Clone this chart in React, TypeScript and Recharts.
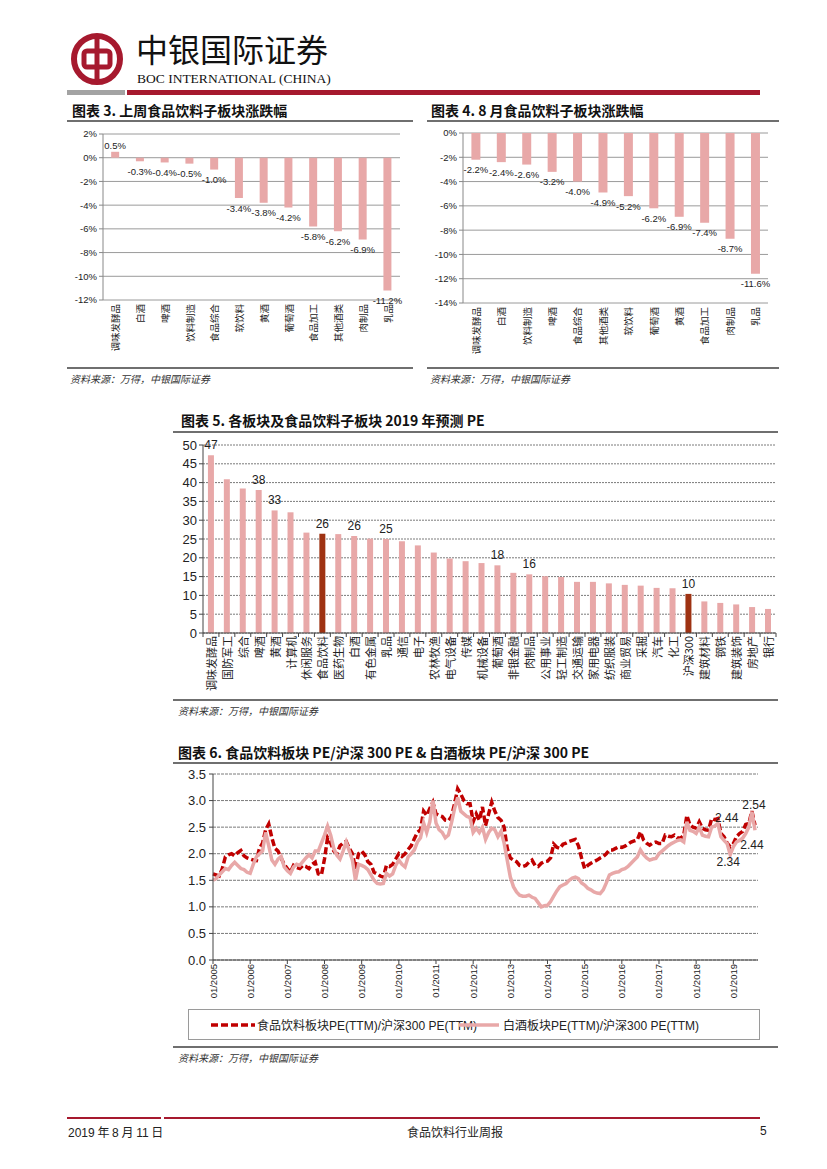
import React from "react";
import {
  BarChart,
  Bar,
  XAxis,
  YAxis,
  CartesianGrid,
  Cell,
  LabelList,
  LineChart,
  Line,
} from "recharts";

const CJK = '"Noto Sans CJK SC", "Noto Sans", sans-serif';
const ARIAL = '"Liberation Sans", Arial, sans-serif';
const PINK = "#E8A8A8";
const DARK = "#9E3212";
const RED = "#C00000";
const BOC_RED = "#A6192E";

// 图表3 上周
const weekSectors = ["调味发酵品", "白酒", "啤酒", "饮料制造", "食品综合", "软饮料", "黄酒", "葡萄酒", "食品加工", "其他酒类", "肉制品", "乳品"];
const weekChange = [0.5, -0.3, -0.4, -0.5, -1.0, -3.4, -3.8, -4.2, -5.8, -6.2, -6.9, -11.2];
const weekTicks = [2, 0, -2, -4, -6, -8, -10, -12];

// 图表4 8月
const augSectors = ["调味发酵品", "白酒", "饮料制造", "啤酒", "食品综合", "其他酒类", "软饮料", "葡萄酒", "黄酒", "食品加工", "肉制品", "乳品"];
const augChange = [-2.2, -2.4, -2.6, -3.2, -4.0, -4.9, -5.2, -6.2, -6.9, -7.4, -8.7, -11.6];
const augTicks = [0, -2, -4, -6, -8, -10, -12, -14];

// 图表5 2019 预测 PE
const peSectors = [
  "调味发酵品", "国防军工", "综合", "啤酒", "黄酒", "计算机", "休闲服务", "食品饮料", "医药生物", "白酒",
  "有色金属", "乳品", "通信", "电子", "农林牧渔", "电气设备", "传媒", "机械设备", "葡萄酒", "非银金融",
  "肉制品", "公用事业", "轻工制造", "交通运输", "家用电器", "纺织服装", "商业贸易", "采掘", "汽车", "化工",
  "沪深300", "建筑材料", "钢铁", "建筑装饰", "房地产", "银行",
];
const peValues = [
  47.3, 40.9, 38.4, 38.0, 32.6, 32.1, 26.7, 26.4, 26.3, 25.8,
  25.1, 25.0, 24.4, 23.3, 21.4, 19.8, 19.1, 18.6, 18.0, 16.0,
  15.6, 15.1, 14.9, 13.6, 13.6, 13.2, 12.8, 12.6, 12.0, 11.9,
  10.4, 8.4, 8.0, 7.6, 6.9, 6.4,
];
const peHighlight = ["食品饮料", "沪深300"];
const peLabeled = ["调味发酵品", "啤酒", "黄酒", "食品饮料", "白酒", "乳品", "葡萄酒", "肉制品", "沪深300"];
const peTicks = [0, 5, 10, 15, 20, 25, 30, 35, 40, 45, 50];

// 图表6 月度 PE 比值, 2005/01 - 2019/08
const foodRatio = [
  1.62, 1.6, 1.58, 1.72, 1.94, 1.98, 2.0, 1.96, 2.02, 2.06, 1.96, 1.92,
  1.9, 1.88, 1.87, 2.1, 2.2, 2.45, 2.56, 2.3, 2.1, 2.05, 1.92, 1.8,
  1.72, 1.65, 1.78, 1.74, 1.72, 1.78, 1.76, 1.72, 1.8, 1.84, 1.62, 1.6,
  1.9, 2.3, 2.2, 2.05, 2.0, 2.15, 2.2, 2.23, 2.1, 2.0, 1.72, 2.0,
  2.05, 1.98, 1.85, 1.8, 1.65, 1.62, 1.58, 1.56, 1.78, 1.76, 1.8, 1.9,
  2.0, 1.95, 2.0, 2.08, 2.15, 2.28, 2.4, 2.45, 2.8, 2.72, 2.85, 2.97,
  2.75, 2.72, 2.7, 2.63, 2.62, 2.7, 2.94, 3.22, 3.12, 3.0, 2.94, 2.94,
  2.6, 2.75, 2.63, 2.88, 2.53, 2.75, 2.97, 2.8, 2.68, 2.63, 2.5, 2.1,
  1.92, 1.88, 1.85, 1.78, 1.76, 1.78, 1.84, 1.88, 1.78, 1.76, 1.82, 1.85,
  1.86, 1.92, 2.18, 2.12, 2.1, 2.18, 2.2, 2.23, 2.25, 2.27, 2.15, 1.92,
  1.72, 1.78, 1.82, 1.85, 1.88, 1.92, 1.95, 2.0, 2.07, 2.07, 2.1, 2.13,
  2.12, 2.14, 2.18, 2.22, 2.24, 2.26, 2.41, 2.26, 2.2, 2.16, 2.2, 2.22,
  2.19, 2.19, 2.35, 2.33, 2.32, 2.35, 2.3, 2.29, 2.35, 2.72, 2.54, 2.5,
  2.48, 2.6, 2.48, 2.45, 2.44, 2.66, 2.64, 2.66, 2.38, 2.32, 2.2, 2.13,
  2.19, 2.32, 2.38, 2.42, 2.55, 2.57, 2.8, 2.54,
];
const baijiuRatio = [
  1.5, 1.53, 1.6, 1.66, 1.72, 1.7, 1.78, 1.84, 1.78, 1.72, 1.7, 1.65,
  1.63, 1.8, 1.94, 2.0, 2.05, 2.4, 2.15, 1.88, 1.8, 1.9, 1.95, 1.75,
  1.68, 1.63, 1.75, 1.8, 1.78, 1.85, 1.92, 1.98, 1.92, 2.05, 2.05, 2.2,
  2.35, 2.52, 2.35, 2.1, 1.97, 1.9, 2.05, 2.22, 2.05, 1.88, 1.5, 1.8,
  1.78, 1.75, 1.7, 1.6, 1.5, 1.44, 1.43, 1.44, 1.63, 1.58, 1.62, 1.78,
  1.88, 1.8, 1.75, 1.94, 2.0, 2.07, 2.22, 2.3, 2.58, 2.4, 2.6, 3.0,
  2.58, 2.45, 2.4, 2.3, 2.35, 2.58, 2.85, 3.06, 2.8, 2.75, 2.7, 2.68,
  2.4, 2.48, 2.4, 2.5, 2.27, 2.4, 2.48, 2.45, 2.32, 2.42, 2.2, 1.88,
  1.56, 1.38, 1.28, 1.22, 1.2, 1.2, 1.22, 1.18, 1.16, 1.08, 1.0, 1.02,
  1.03, 1.1, 1.2, 1.3, 1.38, 1.41, 1.44, 1.5, 1.54, 1.56, 1.53, 1.45,
  1.41, 1.35, 1.32, 1.28, 1.26, 1.25, 1.32, 1.45, 1.6, 1.63, 1.65, 1.66,
  1.7, 1.72, 1.76, 1.82, 1.88, 1.94, 2.07, 1.98, 1.92, 1.88, 1.9, 1.91,
  2.0, 2.05, 2.1, 2.15, 2.19, 2.22, 2.25, 2.26, 2.22, 2.6, 2.44, 2.42,
  2.38, 2.5, 2.35, 2.33, 2.32, 2.5, 2.52, 2.57, 2.32, 2.25, 2.19, 1.98,
  2.13, 2.22, 2.25, 2.29, 2.38, 2.5, 2.79, 2.44,
];
const ratioYears = [2005, 2006, 2007, 2008, 2009, 2010, 2011, 2012, 2013, 2014, 2015, 2016, 2017, 2018, 2019];
const ratioTicks = [0, 0.5, 1, 1.5, 2, 2.5, 3, 3.5];
// annotations: point index -> text
const foodNotes = [
  { index: 162, text: "2.44" },
  { index: 175, text: "2.54" },
];
const baijiuNotes = [
  { index: 167, text: "2.34" },
  { index: 175, text: "2.44" },
];

const months: string[] = [];
ratioYears.forEach((y) => {
  for (let m = 1; m <= 12; m++) months.push(`${String(m).padStart(2, "0")}/${y}`);
});
const ratioData = foodRatio.map((v, i) => ({ date: months[i], food: v, baijiu: baijiuRatio[i] }));

const weekData = weekSectors.map((name, i) => ({ name, value: weekChange[i] }));
const augData = augSectors.map((name, i) => ({ name, value: augChange[i] }));
const peData = peSectors.map((name, i) => ({ name, value: peValues[i] }));

const PE_W = 608;
const PE_PLOT_W = PE_W - 33 - 2;

const abs = (left: number, top: number, extra: React.CSSProperties = {}): React.CSSProperties => ({
  position: "absolute",
  left,
  top,
  ...extra,
});

const VTick = (props: any) => {
  const { x, y, payload, fontSize, offset } = props;
  return (
    <text
      transform={`translate(${x},${y + offset}) rotate(-90)`}
      textAnchor="end"
      dominantBaseline="central"
      fontSize={fontSize}
      fontFamily={props.family || CJK}
      fill="#222"
    >
      {payload.value}
    </text>
  );
};

const PeTick = (props: any) => {
  const { x, y, payload, index } = props;
  const step = PE_PLOT_W / peSectors.length;
  return (
    <g>
      <line x1={x - step / 2} x2={x - step / 2} y1={y} y2={y + 4} stroke="#444" />
      {index === peSectors.length - 1 && (
        <line x1={x + step / 2} x2={x + step / 2} y1={y} y2={y + 4} stroke="#444" />
      )}
      <text
        transform={`translate(${x},${y + 3}) rotate(-90)`}
        textAnchor="end"
        dominantBaseline="central"
        fontSize={11}
        fontFamily={CJK}
        fill="#222"
      >
        {payload.value}
      </text>
    </g>
  );
};

const PctLabel = (props: any) => {
  const vb = props.viewBox ?? props;
  const { value } = props;
  const cx = vb.x + vb.width / 2;
  const top = Math.min(vb.y, vb.y + vb.height);
  const bottom = Math.max(vb.y, vb.y + vb.height);
  const y = value >= 0 ? top - 6 : bottom + 10;
  return (
    <text x={cx} y={y} textAnchor="middle" dominantBaseline="central" fontSize={9.5} fontFamily={ARIAL} fill="#222">
      {`${Number(value).toFixed(1)}%`}
    </text>
  );
};

const PeLabel = (props: any) => {
  const vb = props.viewBox ?? props;
  const { value, index } = props;
  if (!peLabeled.includes(peSectors[index])) return null;
  const top = Math.min(vb.y, vb.y + vb.height);
  return (
    <text x={vb.x + vb.width / 2} y={top - 10} textAnchor="middle" dominantBaseline="central" fontSize={12} fontFamily={ARIAL} fill="#222">
      {Math.round(value)}
    </text>
  );
};

const noteOffsets: Record<string, { dx: number; dy: number }> = {
  "food-162": { dx: 12, dy: -2 },
  "food-175": { dx: -1, dy: -20 },
  "baijiu-167": { dx: -2, dy: 7 },
  "baijiu-175": { dx: -3, dy: 15 },
};

const makeNoteLabel = (series: string, notes: { index: number; text: string }[]) => (props: any) => {
  const vb = props.viewBox ?? props;
  const note = notes.find((n) => n.index === props.index);
  if (!note) return null;
  const off = noteOffsets[`${series}-${note.index}`];
  return (
    <text x={vb.x + off.dx} y={vb.y + off.dy} textAnchor="middle" dominantBaseline="central" fontSize={12} fontFamily={ARIAL} fill="#222">
      {note.text}
    </text>
  );
};

const ChartTitle = ({ left, top, children }: any) => (
  <div style={abs(left, top, { fontFamily: CJK, fontWeight: 700, fontSize: 14, lineHeight: "16px", color: "#111", whiteSpace: "nowrap" })}>
    {children}
  </div>
);

const Rule = ({ left, top, width }: any) => (
  <div style={abs(left, top, { width, height: 2, background: "#6f6f6f" })} />
);

const Source = ({ left, top }: any) => (
  <div style={abs(left, top, { fontFamily: CJK, fontStyle: "italic", fontSize: 10, lineHeight: "12px", color: "#333", whiteSpace: "nowrap" })}>
    资料来源：万得，中银国际证券
  </div>
);

const Logo = () => (
  <svg width={54} height={54} viewBox="0 0 54 54" style={abs(70, 32)}>
    <circle cx={27} cy={27} r={23} fill="none" stroke={BOC_RED} strokeWidth={6} />
    <rect x={14} y={19} width={26} height={16} rx={3} fill="none" stroke={BOC_RED} strokeWidth={5} />
    <line x1={27} y1={4} x2={27} y2={50} stroke={BOC_RED} strokeWidth={5} />
  </svg>
);

const pctChart = (data: any[], ticks: number[], domain: [number, number], width: number, height: number) => (
  <BarChart width={width} height={height} data={data} margin={{ top: 9, right: 5, left: 0, bottom: 0 }} barCategoryGap="33%">
    <CartesianGrid vertical={false} stroke="#9a9a9a" />
    <XAxis
      dataKey="name"
      interval={0}
      tickLine={false}
      axisLine={false}
      tickSize={0}
      tickMargin={0}
      height={62}
      tick={(p: any) => <VTick {...p} fontSize={9.5} offset={4} />}
    />
    <YAxis
      domain={domain}
      ticks={ticks}
      interval={0}
      width={43}
      tickFormatter={(v: number) => `${v}%`}
      tick={{ fontSize: 9.5, fontFamily: ARIAL, fill: "#222" }}
      axisLine={{ stroke: "#888" }}
      tickLine={{ stroke: "#888" }}
      tickSize={4}
    />
    <Bar dataKey="value" fill={PINK} isAnimationActive={false}>
      <LabelList dataKey="value" content={PctLabel} />
    </Bar>
  </BarChart>
);

export default function App() {
  return (
    <div style={{ position: "absolute", left: 0, top: 0, width: 827, height: 1169, background: "#fff", overflow: "hidden", fontFamily: CJK }}>
      {/* header */}
      <Logo />
      <div style={abs(136, 28, { fontFamily: CJK, fontSize: 32, lineHeight: "40px", color: "#111", letterSpacing: 0 })}>中银国际证券</div>
      <div style={abs(137, 71, { fontFamily: '"Liberation Serif", serif', fontSize: 13.5, lineHeight: "16px", color: "#111", whiteSpace: "nowrap" })}>
        BOC INTERNATIONAL (CHINA)
      </div>
      <div style={abs(67, 90, { width: 58, height: 5, background: "#a3a3a3" })} />
      <div style={abs(127, 90, { width: 633, height: 5, background: BOC_RED })} />

      {/* 图表3 */}
      <ChartTitle left={72} top={102}>图表 3. 上周食品饮料子板块涨跌幅</ChartTitle>
      <Rule left={67} top={120} width={346} />
      <div style={abs(60, 125)}>{pctChart(weekData, weekTicks, [-12, 2], 345, 237)}</div>
      <Rule left={67} top={367} width={346} />
      <Source left={70} top={373} />

      {/* 图表4 */}
      <ChartTitle left={431} top={102}>图表 4. 8 月食品饮料子板块涨跌幅</ChartTitle>
      <Rule left={427} top={120} width={352} />
      <div style={abs(420, 124)}>{pctChart(augData, augTicks, [-14, 0], 353, 241)}</div>
      <Rule left={427} top={367} width={352} />
      <Source left={430} top={373} />

      {/* 图表5 */}
      <ChartTitle left={181} top={412}>图表 5. 各板块及食品饮料子板块 2019 年预测 PE</ChartTitle>
      <Rule left={173} top={431} width={605} />
      <div style={abs(170, 436)}>
        <BarChart width={PE_W} height={259} data={peData} margin={{ top: 9, right: 2, left: 0, bottom: 0 }} barCategoryGap="31%">
          <CartesianGrid vertical={false} stroke="#7a7a7a" strokeDasharray="2 1" />
          <XAxis
            dataKey="name"
            interval={0}
            tickLine={false}
            axisLine={{ stroke: "#444" }}
            tickSize={0}
            tickMargin={0}
            height={62}
            tick={PeTick}
          />
          <YAxis
            domain={[0, 50]}
            ticks={peTicks}
            interval={0}
            width={33}
            tick={{ fontSize: 13, fontFamily: ARIAL, fill: "#222" }}
            axisLine={{ stroke: "#444" }}
            tickLine={{ stroke: "#444" }}
            tickSize={4}
            tickMargin={2}
          />
          <Bar dataKey="value" isAnimationActive={false}>
            {peData.map((d) => (
              <Cell key={d.name} fill={peHighlight.includes(d.name) ? DARK : PINK} />
            ))}
            <LabelList dataKey="value" content={PeLabel} />
          </Bar>
        </BarChart>
      </div>
      <Rule left={173} top={699} width={605} />
      <Source left={178} top={705} />

      {/* 图表6 */}
      <ChartTitle left={178} top={744}>图表 6. 食品饮料板块 PE/沪深 300 PE &amp; 白酒板块 PE/沪深 300 PE</ChartTitle>
      <Rule left={173} top={762} width={605} />
      <div style={abs(170, 765)}>
        <LineChart width={608} height={243} data={ratioData} margin={{ top: 9, right: 20, left: 0, bottom: 8 }}>
          <CartesianGrid vertical={false} stroke="#7a7a7a" strokeDasharray="3 1" />
          <XAxis
            dataKey="date"
            interval={11}
            padding={{ left: 0, right: 3 }}
            axisLine={{ stroke: "#444" }}
            tickLine={{ stroke: "#444" }}
            tickSize={4}
            tickMargin={0}
            height={40}
            tick={(p: any) => <VTick {...p} fontSize={9.5} offset={0} family={ARIAL} />}
          />
          <YAxis
            domain={[0, 3.5]}
            ticks={ratioTicks}
            interval={0}
            width={43}
            tickFormatter={(v: number) => v.toFixed(1)}
            tick={{ fontSize: 13, fontFamily: ARIAL, fill: "#222" }}
            axisLine={{ stroke: "#444" }}
            tickLine={{ stroke: "#444" }}
            tickSize={4}
            tickMargin={3}
          />
          <Line
            dataKey="food"
            stroke={RED}
            strokeWidth={3.5}
            strokeDasharray="7 3"
            dot={false}
            isAnimationActive={false}
          >
            <LabelList dataKey="food" content={makeNoteLabel("food", foodNotes)} />
          </Line>
          <Line dataKey="baijiu" stroke={PINK} strokeWidth={3.5} dot={false} isAnimationActive={false}>
            <LabelList dataKey="baijiu" content={makeNoteLabel("baijiu", baijiuNotes)} />
          </Line>
        </LineChart>
      </div>
      <div style={abs(188, 1009, { width: 570, height: 29, border: "1px solid #9a9a9a" })}>
        <svg width={44} height={10} style={abs(22, 10)}>
          <line x1={0} y1={5} x2={44} y2={5} stroke={RED} strokeWidth={3.5} strokeDasharray="7 3" />
        </svg>
        <div style={abs(68, 7, { fontSize: 12, lineHeight: "15px", color: "#222", whiteSpace: "nowrap", fontFamily: CJK })}>
          食品饮料板块<span style={{ fontFamily: ARIAL }}>PE(TTM)/</span>沪深<span style={{ fontFamily: ARIAL }}>300 PE(TTM)</span>
        </div>
        <svg width={40} height={10} style={abs(270, 10)}>
          <line x1={0} y1={5} x2={40} y2={5} stroke={PINK} strokeWidth={3.5} />
        </svg>
        <div style={abs(314, 7, { fontSize: 12, lineHeight: "15px", color: "#222", whiteSpace: "nowrap", fontFamily: CJK })}>
          白酒板块<span style={{ fontFamily: ARIAL }}>PE(TTM)/</span>沪深<span style={{ fontFamily: ARIAL }}>300 PE(TTM)</span>
        </div>
      </div>
      <Rule left={173} top={1046} width={605} />
      <Source left={178} top={1052} />

      {/* footer */}
      <div style={abs(67, 1117, { width: 94, height: 2, background: BOC_RED })} />
      <div style={abs(164, 1117, { width: 596, height: 2, background: BOC_RED })} />
      <div style={abs(68, 1124, { fontSize: 12, lineHeight: "15px", color: "#222", whiteSpace: "nowrap" })}>
        <span style={{ fontFamily: ARIAL }}>2019</span> 年 <span style={{ fontFamily: ARIAL }}>8</span> 月 <span style={{ fontFamily: ARIAL }}>11</span> 日
      </div>
      <div style={abs(350, 1124, { width: 210, textAlign: "center", fontSize: 12, lineHeight: "15px", color: "#222" })}>食品饮料行业周报</div>
      <div style={abs(760, 1124, { fontSize: 12, lineHeight: "15px", fontFamily: ARIAL, color: "#222" })}>5</div>
    </div>
  );
}
